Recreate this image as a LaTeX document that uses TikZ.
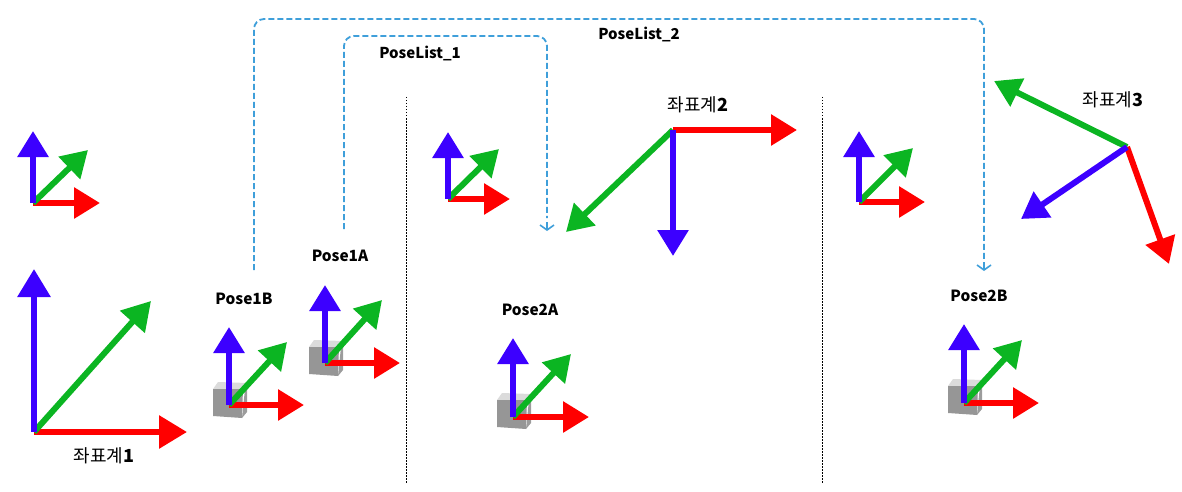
\documentclass[tikz,border=0pt]{standalone}
\usepackage{fontspec}
\usetikzlibrary{arrows.meta}
\newfontfamily\kr{Noto Sans CJK KR}
\definecolor{axr}{HTML}{FF0000}
\definecolor{axg}{HTML}{0BB522}
\definecolor{axb}{HTML}{3C00FF}
\definecolor{link}{HTML}{3F9FDA}
\tikzset{
  ax/.style={line width=6pt,-{Triangle[length=26pt,width=30pt]}},
  bigax/.style={line width=6pt,-{Triangle[length=28pt,width=32pt]}},
  linkline/.style={link,line width=1.8pt,dash pattern=on 6pt off 3pt,rounded corners=10pt},
  linkend/.style={-{Straight Barb[length=5pt,width=14pt,line width=1.6pt]}},
  sep/.style={black,line width=0.9pt,dash pattern=on 1.5pt off 1.5pt},
  lab/.style={font=\kr\bfseries\fontsize{15.4}{18}\selectfont,text=black,inner sep=0pt},
  listlab/.style={font=\kr\bfseries\fontsize{15}{18}\selectfont,text=black,inner sep=0pt},
  klab/.style={font=\kr\fontsize{18}{20}\selectfont,text=black,inner sep=0pt}
}
\newcommand{\triad}[5][ax]{%
  \draw[#1,axr] #2 -- #4;
  \draw[#1,axg] #2 -- #5;
  \draw[#1,axb] #2 -- #3;
}
\newcommand{\cube}[2]{%
  \begin{scope}[shift={(#1,#2)}]
    \fill[gray!28] (-16,-16) -- (-11,-23) -- (18,-22) -- (16,-16) -- cycle;
    \fill[gray!78] (16,-16) -- (18,-22) -- (18,7) -- (13,13) -- cycle;
    \fill[gray!82] (-16,-16) -- (14,-16) -- (13,13) -- (-16,11) -- cycle;
  \end{scope}
}
\begin{document}
\begin{tikzpicture}[x=1pt,y=-1pt]
\useasboundingbox (0,0) rectangle (1182,492);
% separators
\coordinate (s1a) at (406,97); \coordinate (s1b) at (406,483);
\coordinate (s2a) at (822,97); \coordinate (s2b) at (822,483);
\draw[sep] (s1a) -- (s1b);
\draw[sep] (s2a) -- (s2b);
% cubes
\cube{229}{405}
\cube{325}{363}
\cube{513}{416}
\cube{964}{402}
% triads
\triad{(33,203)}{(33,131)}{(100,203)}{(88,150)}
\triad[bigax]{(34,432)}{(34,269)}{(187,432)}{(151,301)}
\triad{(229,405)}{(229,327)}{(304,405)}{(287,342)}
\triad{(325,363)}{(325,285)}{(400,363)}{(382,300)}
\triad{(448,199)}{(448,132)}{(510,199)}{(499,149)}
\triad{(859,202)}{(859,131)}{(925,202)}{(913,148)}
\triad{(513,417)}{(513,338)}{(589,417)}{(571,354)}
\triad{(964,403)}{(964,324)}{(1039,403)}{(1022,340)}
\triad{(673,130)}{(673,256)}{(797,130)}{(566,232)}
\triad{(1127,147)}{(1021,219)}{(1169,264)}{(994,81)}
% labels
\node[klab] (k1) at (104,456) {좌표계\textbf{1}};
\node[klab] (k2) at (698,105) {좌표계\textbf{2}};
\node[klab] (k3) at (1113,100) {좌표계\textbf{3}};
\node[lab] (p1a) at (340,256) {Pose1A};
\node[lab] (p1b) at (244,299) {Pose1B};
\node[lab] (p2a) at (530,310) {Pose2A};
\node[lab] (p2b) at (979,296) {Pose2B};
\node[listlab] (l1) at (420,53) {PoseList\_1};
\node[listlab] (l2) at (639,34) {PoseList\_2};
% connectors
\coordinate (o1) at (344,229);
\coordinate (o1up) at (344,36);
\coordinate (o1r) at (547,36);
\coordinate (e1) at (547,231);
\draw[linkline] (o1) -- (o1up) -- (o1r) -- (547,218);
\draw[link,line width=1.6pt,linkend] (547,222) -- (e1);
\coordinate (o2) at (254,270);
\coordinate (o2up) at (254,19);
\coordinate (o2r) at (984,19);
\coordinate (e2) at (984,271);
\draw[linkline] (o2) -- (o2up) -- (o2r) -- (984,259);
\draw[link,line width=1.6pt,linkend] (984,262) -- (e2);
\end{tikzpicture}
\end{document}
